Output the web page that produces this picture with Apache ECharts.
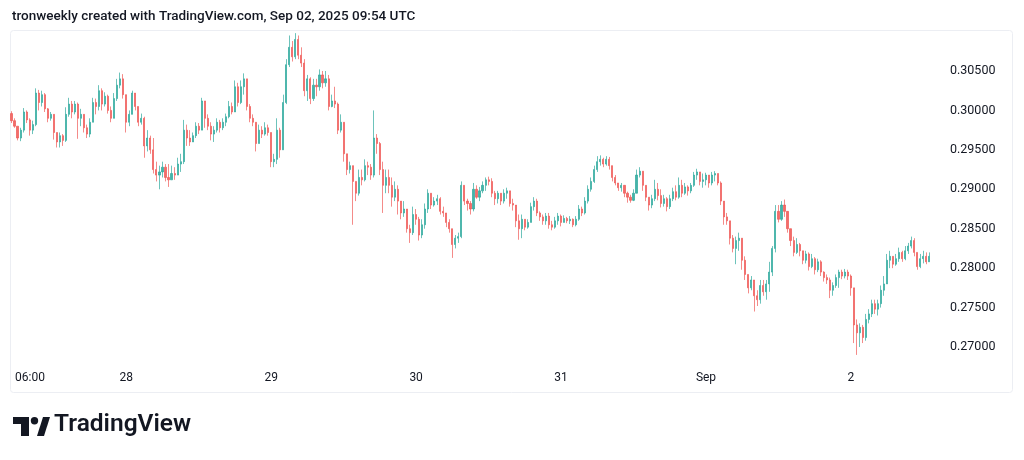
<!DOCTYPE html>
<html>
<head>
<meta charset="utf-8">
<title>TRX chart</title>
<script src="https://cdn.jsdelivr.net/npm/echarts@6.0.0/dist/echarts.min.js"></script>
<style>
    html, body { margin: 0; padding: 0; background: #ffffff; }
    #chart { width: 1024px; height: 460px; }
</style>
</head>
<body>
<div id="chart"></div>
<script>
// 30 min candles from Aug 27 05:00, prices in units of 0.0001
var firstOpen = 2996;
var closes = [
    2987,2980,2965,2975,2998,2988,2975,2982,3022,3010,
    3020,3002,2990,2995,2972,2960,2968,2962,2995,3008,
    2998,3008,2990,2995,2978,2970,2985,3010,3005,3025,
    3008,3018,3000,2990,3015,3032,3040,3020,2985,2995,
    3022,3005,2985,2990,2955,2965,2950,2925,2918,2922,
    2928,2915,2912,2920,2918,2932,2935,2975,2965,2960,
    2968,2980,2975,3012,2990,2980,2970,2975,2985,2978,
    2985,2992,3005,2998,3030,3010,3030,3040,3005,2990,
    2985,2958,2975,2970,2978,2972,2935,2938,2975,2950,
    3010,3058,3080,3068,3090,3070,3060,3025,3040,3015,
    3032,3030,3045,3035,3040,3005,3012,3008,2975,2985,
    2945,2925,2930,2910,2895,2915,2912,2930,2928,2918,
    2965,2958,2925,2905,2915,2905,2890,2900,2885,2870,
    2875,2850,2845,2868,2862,2842,2855,2875,2895,2880,
    2885,2888,2872,2870,2858,2850,2830,2838,2840,2905,
    2885,2882,2875,2900,2890,2898,2905,2912,2910,2895,
    2888,2895,2885,2895,2898,2882,2880,2860,2850,2862,
    2852,2858,2878,2885,2870,2865,2860,2866,2855,2852,
    2860,2866,2858,2863,2860,2862,2855,2862,2875,2870,
    2885,2900,2910,2925,2935,2938,2932,2938,2930,2915,
    2908,2902,2905,2895,2890,2886,2895,2918,2923,2905,
    2890,2880,2888,2900,2892,2882,2888,2878,2888,2897,
    2890,2905,2895,2903,2898,2905,2918,2922,2910,2912,
    2918,2908,2918,2920,2908,2885,2865,2860,2838,2825,
    2835,2838,2810,2792,2775,2785,2765,2760,2778,2770,
    2780,2795,2825,2872,2862,2880,2872,2850,2835,2820,
    2830,2822,2810,2818,2802,2812,2798,2808,2795,2788,
    2785,2772,2778,2788,2795,2790,2795,2790,2775,2728,
    2718,2725,2712,2735,2742,2755,2748,2755,2772,2780,
    2810,2815,2805,2812,2820,2812,2822,2828,2835,2820,
    2802,2812,2815,2808,2815
];
var highs = [
    2999,2990,2980,2978,3003,3000,2990,2987,3028,3026,
    3025,3022,3003,2998,2995,2972,2972,2970,3004,3016,
    3012,3012,3010,3002,2995,2982,2990,3016,3015,3032,
    3028,3023,3020,3005,3022,3040,3048,3046,3020,3000,
    3025,3022,3003,2996,2992,2975,2968,2965,2935,2930,
    2935,2932,2932,2930,2928,2940,2945,2988,2982,2975,
    2972,2985,2984,3016,3012,2995,2985,2980,2990,2988,
    2990,2996,3012,3010,3038,3035,3038,3047,3040,3008,
    2995,2985,2982,2980,2985,2982,2972,2945,2990,2978,
    3020,3065,3095,3088,3098,3095,3080,3065,3045,3042,
    3040,3040,3052,3050,3050,3045,3020,3030,3010,2995,
    2985,2945,2935,2925,2905,2925,2925,2938,2935,2932,
    3000,2970,2960,2935,2925,2925,2915,2910,2905,2885,
    2885,2872,2855,2878,2875,2865,2862,2882,2900,2895,
    2890,2893,2890,2878,2868,2862,2850,2842,2845,2910,
    2902,2888,2885,2908,2905,2903,2910,2915,2916,2914,
    2898,2898,2895,2900,2902,2897,2888,2880,2868,2868,
    2862,2862,2883,2890,2888,2872,2868,2870,2870,2860,
    2865,2870,2868,2867,2865,2866,2863,2866,2880,2878,
    2890,2905,2915,2930,2942,2943,2940,2942,2941,2930,
    2918,2908,2908,2905,2897,2893,2900,2925,2928,2922,
    2905,2890,2893,2912,2908,2900,2893,2890,2893,2902,
    2905,2915,2912,2908,2905,2908,2922,2926,2922,2920,
    2921,2918,2922,2923,2920,2910,2885,2870,2860,2842,
    2840,2845,2838,2815,2792,2790,2785,2772,2785,2785,
    2785,2808,2828,2880,2880,2885,2887,2870,2850,2840,
    2838,2832,2822,2822,2820,2818,2814,2812,2810,2796,
    2792,2788,2782,2792,2798,2798,2799,2798,2792,2775,
    2735,2730,2728,2742,2748,2760,2760,2760,2778,2790,
    2818,2822,2815,2818,2826,2822,2828,2832,2840,2838,
    2815,2818,2822,2820,2820
];
var lows = [
    2984,2978,2962,2961,2972,2984,2968,2970,2980,3000,
    3005,2998,2985,2987,2963,2953,2953,2955,2960,2992,
    2990,2995,2964,2980,2972,2965,2966,2985,2995,3000,
    3000,3005,2996,2985,2990,3012,3028,3015,2972,2980,
    2995,3000,2980,2982,2940,2948,2945,2920,2910,2900,
    2915,2910,2903,2912,2912,2920,2922,2932,2955,2955,
    2960,2965,2970,2980,2978,2975,2962,2960,2972,2972,
    2975,2980,2990,2995,2998,3005,3008,3020,3000,2985,
    2980,2948,2958,2965,2968,2968,2928,2928,2932,2940,
    2950,3008,3055,3062,3065,3065,3055,3018,3012,3008,
    3012,3018,3025,3028,3030,3000,3004,3003,2970,2972,
    2935,2918,2920,2855,2885,2892,2905,2910,2918,2912,
    2915,2945,2918,2870,2895,2895,2878,2885,2868,2862,
    2865,2845,2832,2842,2855,2835,2838,2850,2870,2875,
    2878,2880,2868,2865,2852,2845,2813,2825,2832,2838,
    2880,2873,2868,2872,2888,2885,2895,2898,2905,2890,
    2880,2882,2880,2882,2888,2878,2873,2852,2836,2838,
    2848,2850,2858,2873,2866,2860,2855,2855,2850,2848,
    2850,2855,2853,2858,2857,2856,2852,2853,2860,2866,
    2868,2882,2897,2908,2922,2930,2928,2930,2925,2910,
    2905,2898,2897,2890,2883,2883,2885,2895,2915,2898,
    2885,2873,2876,2885,2886,2877,2878,2872,2875,2885,
    2886,2888,2890,2893,2892,2895,2903,2912,2905,2902,
    2905,2902,2905,2910,2905,2880,2855,2855,2830,2820,
    2805,2822,2798,2785,2768,2772,2745,2752,2755,2765,
    2760,2770,2790,2820,2858,2860,2865,2845,2828,2815,
    2818,2815,2805,2806,2797,2800,2792,2795,2790,2783,
    2780,2762,2765,2775,2775,2786,2787,2785,2765,2705,
    2690,2700,2705,2708,2730,2738,2742,2740,2750,2765,
    2780,2800,2800,2803,2808,2808,2810,2818,2825,2815,
    2798,2800,2806,2805,2808
];
var startTime = Date.UTC(2025, 7, 27, 5, 0);
var emptySlots = 3;   // right offset after last candle
var timeLabels = ['06:00', '28', '29', '30', '31', 'Sep', '2'];
var timeLabelIdx = [2, 38, 86, 134, 182, 230, 278];
var priceTicks = [0.270, 0.275, 0.280, 0.285, 0.290, 0.295, 0.300, 0.305];

var categories = [];
var candles = [];
for (var i = 0; i < closes.length + emptySlots; i++) {
    categories.push(new Date(startTime + i * 1800000).toISOString());
    if (i >= closes.length) {
        candles.push('-');
        continue;
    }
    var o = i === 0 ? firstOpen : closes[i - 1];
    var c = closes[i];
    var lo = Math.min(lows[i], o, c);
    var hi = Math.max(highs[i], o, c);
    candles.push([o / 10000, c / 10000, lo / 10000, hi / 10000]);
}

var chart = echarts.init(document.getElementById('chart'), null, { renderer: 'canvas' });
var option = {
    animation: false,
    backgroundColor: '#ffffff',
    textStyle: { fontFamily: 'Roboto, "Noto Sans", sans-serif' },
    grid: { left: 10, right: 84, top: 31, bottom: 95 },
    graphic: [
        {
            type: 'rect',
            shape: { x: 10.5, y: 30.5, width: 1002, height: 362, r: 3 },
            style: { fill: 'none', stroke: '#eceef3', lineWidth: 1 },
            silent: true
        },
        {
            type: 'text',
            left: 12, top: 10,
            style: {
                text: 'tronweekly created with TradingView.com, Sep 02, 2025 09:54 UTC',
                fill: '#131722',
                font: '500 13.5px Roboto, "Noto Sans", sans-serif'
            }
        },
        {
            type: 'group',
            left: 13, top: 417,
            children: [
                {
                    type: 'polygon',
                    shape: { points: [[0, 0], [16, 0], [16, 19], [8, 19], [8, 7], [0, 7]] },
                    style: { fill: '#131722' }
                },
                {
                    type: 'circle',
                    shape: { cx: 21.5, cy: 3.7, r: 3.7 },
                    style: { fill: '#131722' }
                },
                {
                    type: 'polygon',
                    shape: { points: [[24, 19], [30, 0], [37, 0], [31, 19]] },
                    style: { fill: '#131722' }
                }
            ]
        },
        {
            type: 'text',
            left: 54, top: 412,
            style: {
                text: 'TradingView',
                fill: '#131722',
                font: '600 24.5px Roboto, "Noto Sans", sans-serif'
            }
        }
    ],
    xAxis: {
        type: 'category',
        data: categories,
        boundaryGap: true,
        axisLine: { show: false },
        axisTick: { show: false },
        splitLine: { show: false },
        axisLabel: {
            color: '#131722',
            fontSize: 12,
            margin: 7,
            interval: function (idx) {
                return timeLabelIdx.indexOf(idx) >= 0;
            },
            formatter: function (val, idx) {
                var k = timeLabelIdx.indexOf(idx);
                if (k < 0) return '';
                if (k === 0) return '{first|' + timeLabels[k] + '}';
                return timeLabels[k];
            },
            rich: {
                first: { color: '#131722', fontSize: 12, padding: [0, 0, 0, 25] }
            }
        }
    },
    yAxis: {
        type: 'value',
        position: 'right',
        scale: true,
        min: 0.26772,
        max: 0.31007,
        axisLine: { show: false },
        axisTick: { show: false, customValues: priceTicks },
        splitLine: { show: false },
        axisLabel: {
            color: '#131722',
            fontSize: 12.5,
            margin: 10,
            customValues: priceTicks,
            formatter: function (v) {
                return v.toFixed(5);
            }
        }
    },
    series: [
        {
            type: 'candlestick',
            data: candles,
            barWidth: 1.6,
            itemStyle: {
                color: '#26a69a',
                color0: '#ef5350',
                borderColor: '#26a69a',
                borderColor0: '#ef5350',
                borderWidth: 0.8,
                opacity: 0.85
            }
        }
    ]
};
chart.setOption(option);
</script>
</body>
</html>
